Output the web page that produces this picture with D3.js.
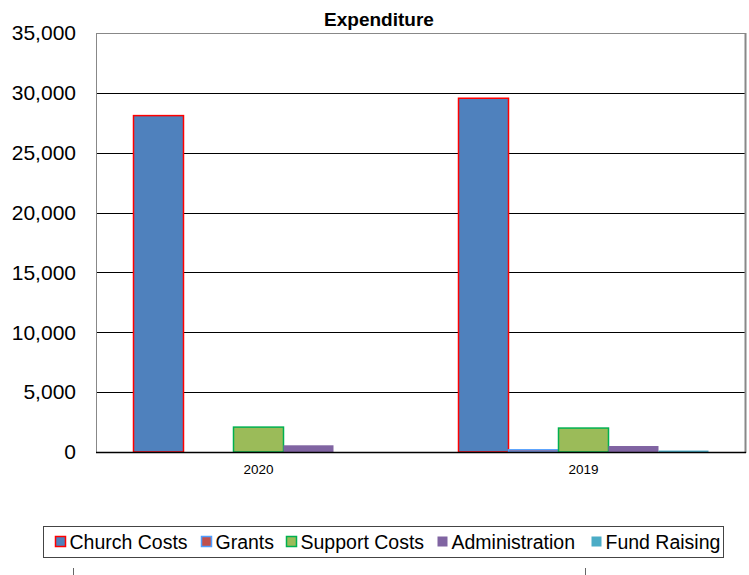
<!DOCTYPE html>
<html>
<head>
<meta charset="utf-8">
<script src="https://cdn.jsdelivr.net/npm/d3@7"></script>
<style>
  body { margin: 0; background: #fff; }
  text { font-family: 'Liberation Sans', Arial, sans-serif; }
</style>
</head>
<body>
<div id="chart"></div>
<script>
const years = ['2020', '2019']
const seriesNames = ['Church Costs', 'Grants', 'Support Costs', 'Administration', 'Fund Raising']
const churchCosts = [28100, 29550]
const grants = [0, 180]
const supportCosts = [2080, 2000]
const administration = [560, 500]
const fundRaising = [0, 120]
const yTicks = [0, 5000, 10000, 15000, 20000, 25000, 30000, 35000]

const seriesValues = [churchCosts, grants, supportCosts, administration, fundRaising]
const fills = ['#4f81bd', '#c0504d', '#9bbb59', '#8064a2', '#4bacc6']
const strokes = ['#ff0000', '#4f9eff', '#00b050', 'none', 'none']

const W = 749
const H = 575
const plot = { left: 96, top: 33, right: 746, bottom: 452 }

const svg = d3.select('#chart')
  .append('svg')
  .attr('width', W)
  .attr('height', H)

const x = d3.scaleBand()
  .domain(years)
  .range([plot.left, plot.right])

const x1 = d3.scaleBand()
  .domain(seriesNames)
  .range([0, x.bandwidth()])
  .paddingOuter(0.75)

const y = d3.scaleLinear()
  .domain([0, 35000])
  .range([plot.bottom, plot.top])

// gridlines
svg.selectAll('.grid')
  .data(yTicks)
  .enter()
  .append('line')
  .attr('class', 'grid')
  .attr('x1', plot.left)
  .attr('x2', plot.right)
  .attr('y1', d => Math.round(y(d)) + 0.5)
  .attr('y2', d => Math.round(y(d)) + 0.5)
  .attr('stroke', d => d === 35000 ? '#888' : '#000')
  .attr('stroke-width', 1)

// plot frame (left + right in grey)
svg.append('line')
  .attr('x1', plot.left + 0.5).attr('x2', plot.left + 0.5)
  .attr('y1', plot.top).attr('y2', plot.bottom)
  .attr('stroke', '#888')
svg.append('line')
  .attr('x1', plot.right - 0.5).attr('x2', plot.right - 0.5)
  .attr('y1', plot.top).attr('y2', plot.bottom + 1)
  .attr('stroke', '#888')
  .attr('stroke-width', 2)

// y axis labels
const yAxis = d3.axisLeft(y)
  .tickValues(yTicks)
  .tickSize(0)
  .tickPadding(20)
  .tickFormat(d3.format(','))

svg.append('g')
  .attr('transform', `translate(${plot.left},0)`)
  .call(yAxis)
  .call(g => g.select('.domain').remove())
  .selectAll('text')
  .attr('font-size', 21)
  .attr('fill', '#000')
  .style('font-family', "'Liberation Sans', Arial, sans-serif")

// bars
const groups = svg.selectAll('.year')
  .data(years)
  .enter()
  .append('g')
  .attr('class', 'year')
  .attr('transform', d => `translate(${x(d)},0)`)

groups.selectAll('rect')
  .data((d, i) => seriesNames.map((s, j) => ({ name: s, idx: j, value: seriesValues[j][i] })))
  .enter()
  .append('rect')
  .filter(d => d.value > 0)
  .attr('x', d => x1(d.name))
  .attr('width', x1.bandwidth())
  .attr('y', d => y(d.value))
  .attr('height', d => y(0) - y(d.value))
  .attr('fill', d => fills[d.idx])
  .attr('stroke', d => strokes[d.idx])
  .attr('stroke-width', 1.5)

// bottom axis line
svg.append('line')
  .attr('x1', plot.left).attr('x2', plot.right)
  .attr('y1', plot.bottom + 0.5).attr('y2', plot.bottom + 0.5)
  .attr('stroke', '#000')
  .attr('stroke-width', 1.5)

// x labels
svg.selectAll('.xlabel')
  .data(years)
  .enter()
  .append('text')
  .attr('class', 'xlabel')
  .attr('x', d => x(d) + x.bandwidth() / 2)
  .attr('y', 474)
  .attr('text-anchor', 'middle')
  .attr('font-size', 13.5)
  .text(d => d)

// title
svg.append('text')
  .attr('x', 379)
  .attr('y', 26)
  .attr('text-anchor', 'middle')
  .attr('font-size', 19)
  .attr('font-weight', 'bold')
  .text('Expenditure')

// legend
svg.append('rect')
  .attr('x', 43.5).attr('y', 526.5)
  .attr('width', 680).attr('height', 31)
  .attr('fill', 'none')
  .attr('stroke', '#444')
  .attr('stroke-width', 1)

const legendX = [55, 201, 286, 437, 591]
const item = svg.selectAll('.item')
  .data(seriesNames)
  .enter()
  .append('g')
  .attr('class', 'item')
  .attr('transform', (d, i) => `translate(${legendX[i]},542)`)

item.append('rect')
  .attr('x', 0.5).attr('y', -5.5)
  .attr('width', 10).attr('height', 10)
  .attr('fill', (d, i) => fills[i])
  .attr('stroke', (d, i) => strokes[i])
  .attr('stroke-width', 1.5)

item.append('text')
  .attr('x', 14.5)
  .attr('y', 6.5)
  .attr('font-size', 19.5)
  .text(d => d)

// faint marks at bottom edge
svg.selectAll('.tick-mark')
  .data([73, 585])
  .enter()
  .append('line')
  .attr('x1', d => d + 0.5).attr('x2', d => d + 0.5)
  .attr('y1', 568).attr('y2', 575)
  .attr('stroke', '#666')
</script>
</body>
</html>
